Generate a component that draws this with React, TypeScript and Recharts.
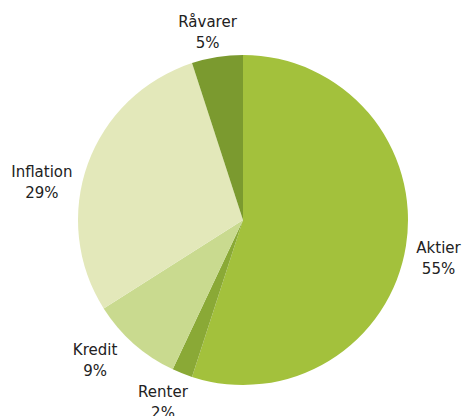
import React from "react";
import { PieChart, Pie, Cell } from "recharts";

const categories = ["Aktier", "Renter", "Kredit", "Inflation", "Råvarer"];
const shares = [55, 2, 9, 29, 5];
const colors = ["#a3c13c", "#8aa936", "#c9da8f", "#e3e8ba", "#7b9a2f"];

// per-label nudges (style only)
const labelNudge: Record<string, [number, number]> = {
  Aktier: [-3, 7],
  Renter: [-6, -5],
  Kredit: [-15, -11],
  Inflation: [-12, 30],
  Råvarer: [-4, 11],
};

const data = categories.map((name, i) => ({ name, value: shares[i] }));

const RADIAN = Math.PI / 180;

const renderLabel = (props: any) => {
  const { cx, cy, midAngle, outerRadius, name, value } = props;
  const r = outerRadius + 36;
  const [nx, ny] = labelNudge[name] || [0, 0];
  const x = cx + r * Math.cos(-midAngle * RADIAN) + nx;
  const y = cy + r * Math.sin(-midAngle * RADIAN) + ny;
  return (
    <text
      x={x}
      y={y}
      textAnchor="middle"
      fill="#222222"
      fontSize={15}
      fontFamily="'DejaVu Sans', sans-serif"
    >
      <tspan x={x} dy={-5}>{name}</tspan>
      <tspan x={x} dy={21}>{value}%</tspan>
    </text>
  );
};

export default function App() {
  return (
    <div style={{ position: "absolute", left: 0, top: 0, background: "#fff" }}>
      <PieChart width={463} height={416} margin={{ top: 0, right: 0, bottom: 0, left: 0 }}>
        <Pie
          data={data}
          dataKey="value"
          nameKey="name"
          cx={243}
          cy={220}
          outerRadius={165}
          startAngle={90}
          endAngle={-270}
          stroke="none"
          label={renderLabel}
          labelLine={false}
          isAnimationActive={false}
        >
          {data.map((d, i) => (
            <Cell key={d.name} fill={colors[i]} />
          ))}
        </Pie>
      </PieChart>
    </div>
  );
}
